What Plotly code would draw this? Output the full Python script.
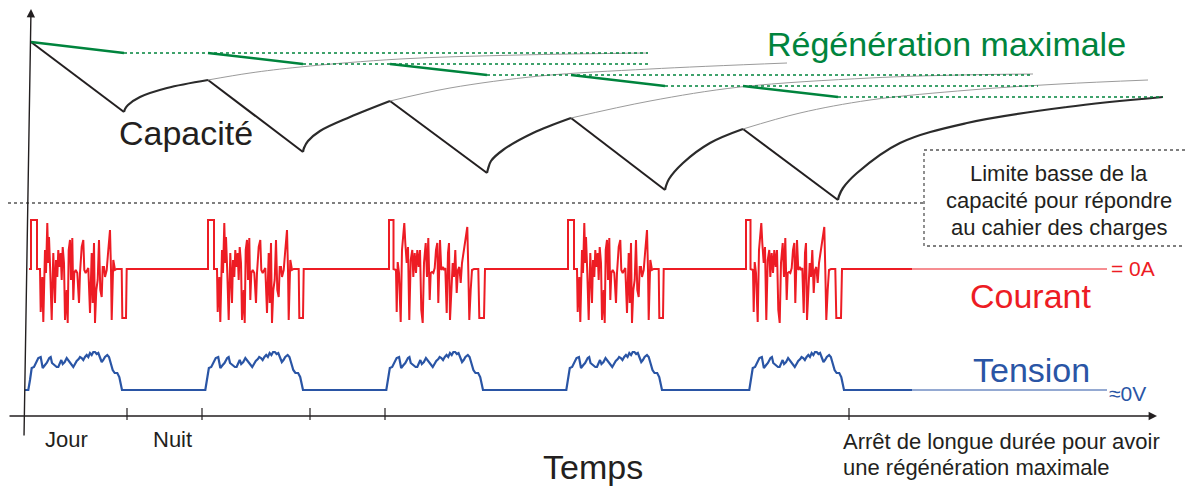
import plotly.graph_objects as go

# ---------------- schematic data (time units along x, levels) -------------
# capacity: start of each day (peak) and start of each night (valley)
day_t = [31, 208, 390, 571, 743]
night_t = [124, 303, 487, 665, 838]
cap_peak = [42, 80, 101, 118, 129]
cap_valley = [112, 152, 173, 190, 200]

# recovery (night) curves of the capacity
rec_t = [[124, 125, 128, 140, 167, 208],
         [303, 304, 308, 320, 350, 390],
         [487, 488, 491, 503, 533, 571],
         [665, 666, 669, 683, 710, 743],
         [838, 839, 843, 857, 900, 967, 1067, 1163]]
rec_lvl = [[112, 109, 105, 97, 88, 80],
           [152, 148, 141, 131, 117, 101],
           [173, 169, 161, 150, 133, 118],
           [190, 186, 179, 163, 143, 129],
           [200, 196, 188, 173, 143, 123, 107, 97]]

# thin grey continuations of the recovery curves
ext_t = [[208, 250, 300, 400, 520, 648],
         [390, 450, 540, 650, 787],
         [571, 650, 740, 870, 960, 1033],
         [743, 800, 870, 970, 1060, 1148]]
ext_lvl = [[80, 73, 67, 59, 55, 53],
           [101, 88, 76, 69, 63],
           [118, 101, 87, 78, 75, 74],
           [129, 113, 100, 90, 84, 80]]

# maximal regeneration level
regen_start = [42, 53, 64, 75, 86]
regen_end = [53, 64, 75, 86, 97]
regen_dot_end = [648, 648, 1033, 1038, 1163]

# current: pattern offsets from the start of a day and current value (0 = 0 A)
curA_dt = [0, 0, 6, 6, 9, 9.7, 11.3, 12.3, 14, 15, 16.3, 17.3, 18, 19.3, 20.7, 22.3, 24, 25, 26.3,
           27.3, 28.3, 29.7, 30.7, 31.7, 33, 34, 35.7, 36.7, 37.7, 39, 40, 41.3, 42.3, 43.3, 44.7,
           46.3, 48, 49, 50.7, 52.3, 53.3, 54.7, 56, 57.3, 59, 60.7, 61.7, 63, 64, 65.3, 66.7, 68,
           69.3, 70.7, 71.7, 73, 74, 75.7, 77.3, 79, 80, 80.7, 82.3, 84, 85.7, 90.7, 91.3, 95, 95.7]
curA_val = [0, 49, 49, 0, 0, -43, -8, -53, 19, -4, 46, 6, 32, -4, -51, 16, -34, 9, -8,
            19, 2, 16, -11, 22, 6, -51, -21, -54, 19, 29, -11, 31, -31, -4, -1,
            -4, -34, -4, 22, 29, -1, -4, -1, 1, -44, 16, -34, 26, -54, -21, -11, 29,
            -21, -28, 2, 2, -8, -1, 19, 39, -1, -51, 9, -1, 0, 0, -49, -49, 0]
curB_dt = [0, 0, 4.5, 4.5, 7, 7.7, 8.7, 10, 11.7, 13, 14.3, 15.3, 16.3, 17.7, 19, 20.3, 21.7, 23.3,
           24.3, 25.7, 27, 28.3, 29.7, 31, 32.3, 33.7, 35, 36.7, 38, 39.3, 40.7, 41.7, 43, 44.3,
           45.7, 47, 48.3, 49.3, 51, 52.3, 53.7, 55, 56.3, 57.7, 59, 60, 61, 62.3, 63.7, 65, 66.3,
           67.7, 69, 70.3, 71.7, 73, 74.3, 75.7, 77, 78.3, 79.3, 80.3, 81.7, 83, 85, 89.3, 90.3,
           95, 96]
curB_val = [0, 49, 49, 0, -1, -43, 7, -4, -53, 19, 39, 46, 26, 6, 22, -51, 9, 19,
            -8, 16, -4, 19, 2, 19, -41, -54, 6, 26, -8, 31, -31, -4, -3, -4,
            1, 19, 26, -34, 29, -1, 2, -1, 1, -44, 16, 26, -51, -14, 6, -8, 19,
            -24, -1, 2, -14, 6, 16, 22, 36, 42, -1, -51, -21, -1, 0, 0, -49,
            -49, 0]
cur_start = [31, 208, 389, 568, 746]
cur_pattern = ["A", "A", "B", "A", "B"]

# voltage: pattern offsets within a day and voltage value (0 = 0 V)
volt_dt = [0.3, 2, 3.7, 6, 8, 10.3, 12.7, 14.7, 17, 18.7, 21.3, 22.7, 24, 26, 28.7, 30.3, 32, 33.3,
           34.7, 36.7, 38.7, 40.7, 42.7, 45.3, 47, 48.7, 50.7, 52, 53.7, 55.3, 57, 58.7, 60.3, 62,
           63.7, 65.3, 67, 68.7, 70.3, 72, 73.7, 75.3, 77, 79.3, 81, 82.7, 84.7, 86.7, 89.3, 91.3, 94]
volt_val = [0, 10, 22, 23, 28, 32, 33, 22, 25, 27, 32, 33, 27, 25, 23, 23, 27, 30,
            26, 28, 32, 29, 27, 23, 26, 29, 31, 33, 32, 30, 33, 35, 33, 37,
            35, 38, 38, 36, 37, 32, 28, 30, 33, 35, 33, 27, 20, 17, 17, 13, 0]
volt_start = [28, 205, 386, 566, 749]
volt_len = [94, 98, 97, 96, 95]

time_ticks = [127, 202, 310, 385, 849]
signal_end = 912       # end of recorded signal
rest_end = 1107        # end of the long rest (thin line)

# ------------------------------------------------------------------------------------------------
FONT = "Liberation Sans, Arial, sans-serif"
BLACK = "#231f20"
GREEN = "#00843d"
RED = "#ed1c24"
BLUE = "#2a55a5"
GREY = "#9b9b9b"

fig = go.Figure()

# capacity: descending day lines
for i in range(5):
    fig.add_trace(go.Scatter(x=[day_t[i], night_t[i]], y=[cap_peak[i], cap_valley[i]],
                             mode="lines", line=dict(color=BLACK, width=2)))
# grey continuations
for t, l in zip(ext_t, ext_lvl):
    fig.add_trace(go.Scatter(x=t, y=l, mode="lines", line_shape="spline",
                             line=dict(color=GREY, width=1)))
# recovery curves
for t, l in zip(rec_t, rec_lvl):
    fig.add_trace(go.Scatter(x=t, y=l, mode="lines", line_shape="spline",
                             line=dict(color="#2b2b2b", width=2.2)))

# regeneration (green)
for i in range(5):
    fig.add_trace(go.Scatter(x=[night_t[i], regen_dot_end[i]], y=[regen_end[i], regen_end[i]],
                             mode="lines", line=dict(color=GREEN, width=1.6, dash="dot")))
    fig.add_trace(go.Scatter(x=[day_t[i], night_t[i]], y=[regen_start[i], regen_end[i]],
                             mode="lines", line=dict(color=GREEN, width=2.5)))

# current
cx, cy = [29], [0]
for s, p in zip(cur_start, cur_pattern):
    dts, vals = (curA_dt, curA_val) if p == "A" else (curB_dt, curB_val)
    cx += [s + d for d in dts]
    cy += vals
cx.append(signal_end)
cy.append(0)
fig.add_trace(go.Scatter(x=cx, y=cy, mode="lines", yaxis="y2",
                         line=dict(color=RED, width=2)))
fig.add_trace(go.Scatter(x=[signal_end, rest_end], y=[0, 0], mode="lines", yaxis="y2",
                         line=dict(color=RED, width=1)))

# voltage
vx, vy = [25], [0]
for s, ln in zip(volt_start, volt_len):
    vx += [s + d * ln / 94 for d in volt_dt]
    vy += volt_val
vx.append(signal_end)
vy.append(0)
fig.add_trace(go.Scatter(x=vx, y=vy, mode="lines", yaxis="y3",
                         line=dict(color=BLUE, width=2.2)))
fig.add_trace(go.Scatter(x=[signal_end, rest_end], y=[0, 0], mode="lines", yaxis="y3",
                         line=dict(color=BLUE, width=1)))

shapes = []
# lower capacity limit (dotted) and box
shapes.append(dict(type="line", xref="x", yref="y", x0=8, x1=924, y0=203, y1=203,
                   line=dict(color="#555555", width=1.3, dash="dot")))
shapes.append(dict(type="rect", xref="x", yref="y", x0=924, x1=1191, y0=150, y1=246,
                   line=dict(color="#555555", width=1.3, dash="dot")))
# time ticks
for t in time_ticks:
    shapes.append(dict(type="line", xref="x", yref="y", x0=t, x1=t, y0=408, y1=420,
                       line=dict(color=BLACK, width=1.2)))

ann = []
# axes with arrows
ann.append(dict(x=31, y=9, ax=24, ay=437, xref="x", yref="y", axref="x", ayref="y", text="",
                showarrow=True, arrowhead=2, arrowsize=1.2, arrowwidth=1.4, arrowcolor=BLACK))
ann.append(dict(x=1157, y=416, ax=8, ay=416, xref="x", yref="y", axref="x", ayref="y", text="",
                showarrow=True, arrowhead=2, arrowsize=1.2, arrowwidth=1.4, arrowcolor=BLACK))


def label(x, y, text, size, color=BLACK, anchor="center"):
    ann.append(dict(x=x, y=y, xref="x", yref="y", text=text, showarrow=False, xanchor=anchor,
                    yanchor="middle", font=dict(family=FONT, size=size, color=color)))


label(946, 44, "Régénération maximale", 34, GREEN)
label(186, 133, "Capacité", 34)
label(1031, 296, "Courant", 34, RED)
label(1031, 370, "Tension", 34, BLUE)
label(1109, 268, "= 0A", 21, RED, "left")
label(1107, 393, "≈0V", 21, BLUE, "left")
label(1059, 173, "Limite basse de la", 22)
label(1059, 200, "capacité pour répondre", 22)
label(1059, 227, "au cahier des charges", 22)
label(66, 439, "Jour", 22)
label(172, 439, "Nuit", 22)
label(593, 467, "Temps", 34)
label(841, 441, "Arrêt de longue durée pour avoir", 22, anchor="left")
label(841, 467, "une régénération maximale", 22, anchor="left")

# the page body has an 8 px margin: the plotting area covers page pixels 8..1193 and 8..486
PAGE_MARGIN = 8
fig.update_layout(
    width=1193 - PAGE_MARGIN, height=486 - PAGE_MARGIN, margin=dict(l=0, r=0, t=0, b=0),
    paper_bgcolor="white", plot_bgcolor="white", showlegend=False,
    xaxis=dict(range=[PAGE_MARGIN, 1193], visible=False, fixedrange=True),
    yaxis=dict(range=[486, PAGE_MARGIN], visible=False, fixedrange=True),
    yaxis2=dict(range=[269 - 486, 269 - PAGE_MARGIN], overlaying="y", visible=False,
                fixedrange=True),
    yaxis3=dict(range=[390 - 486, 390 - PAGE_MARGIN], overlaying="y", visible=False,
                fixedrange=True),
    shapes=shapes, annotations=ann, hovermode=False,
)
fig.write_html("out.html")
